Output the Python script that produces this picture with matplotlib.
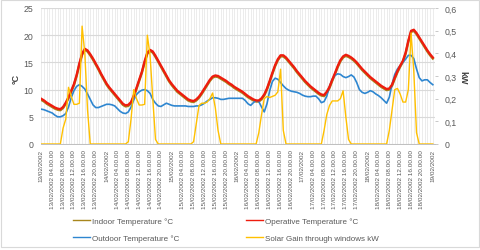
import numpy as np
import matplotlib
matplotlib.use("Agg")
import matplotlib.pyplot as plt
from matplotlib.lines import Line2D
from matplotlib.patches import Rectangle

plt.rcParams["font.family"] = ["Liberation Sans", "DejaVu Sans"]

# hourly values, 13/02/2002 00:00 -> 19/02/2002 00:00
operative = [
    8.3, 8.0, 7.6, 7.3, 7.0, 6.7, 6.5, 6.4, 6.8, 7.6, 8.6, 9.8,
    11.0, 12.7, 14.8, 16.6, 17.5, 17.2, 16.5, 15.7, 14.8, 13.9, 12.9, 12.0,
    11.1, 10.4, 9.8, 9.2, 8.6, 8.0, 7.4, 7.1, 7.2, 7.7, 8.9, 10.3,
    11.8, 13.3, 15.2, 16.8, 17.3, 17.0, 16.2, 15.3, 14.4, 13.5, 12.6, 11.7,
    11.0, 10.4, 9.8, 9.4, 9.0, 8.6, 8.2, 8.0, 7.9, 8.2, 8.7, 9.4,
    10.2, 11.0, 11.8, 12.4, 12.6, 12.5, 12.2, 11.9, 11.6, 11.2, 10.9, 10.5,
    10.2, 9.9, 9.6, 9.2, 8.8, 8.5, 8.2, 8.0, 8.0, 8.4, 9.1, 10.2,
    11.6, 13.1, 14.5, 15.6, 16.3, 16.3, 15.9, 15.3, 14.7, 14.1, 13.4, 12.8,
    12.2, 11.6, 11.1, 10.6, 10.2, 9.8, 9.4, 9.1, 9.0, 9.6, 10.5, 11.8,
    13.0, 14.3, 15.4, 16.1, 16.4, 16.2, 15.9, 15.5, 15.0, 14.4, 13.8, 13.3,
    12.8, 12.3, 11.9, 11.5, 11.1, 10.7, 10.4, 10.1, 10.2, 10.9, 12.2, 13.4,
    14.4, 15.3, 16.8, 19.0, 20.8, 21.0, 20.4, 19.6, 18.8, 18.0, 17.2, 16.5, 15.9,
]

indoor = [
    8.1, 7.8, 7.4, 7.1, 6.8, 6.5, 6.3, 6.2, 6.6, 7.4, 8.4, 9.6,
    10.8, 12.5, 14.6, 16.4, 17.3, 17.0, 16.3, 15.5, 14.6, 13.7, 12.7, 11.8,
    10.9, 10.2, 9.6, 9.0, 8.4, 7.8, 7.2, 6.9, 7.0, 7.5, 8.7, 10.1,
    11.6, 13.1, 15.0, 16.6, 17.1, 16.8, 16.0, 15.1, 14.2, 13.3, 12.4, 11.5,
    10.8, 10.2, 9.6, 9.2, 8.8, 8.4, 8.0, 7.8, 7.7, 8.0, 8.5, 9.2,
    10.0, 10.8, 11.6, 12.2, 12.4, 12.3, 12.0, 11.7, 11.4, 11.0, 10.7, 10.3,
    10.0, 9.7, 9.4, 9.0, 8.6, 8.3, 8.0, 7.8, 7.8, 8.2, 8.9, 10.0,
    11.4, 12.9, 14.3, 15.4, 16.1, 16.1, 15.7, 15.1, 14.5, 13.9, 13.2, 12.6,
    12.0, 11.4, 10.9, 10.4, 10.0, 9.6, 9.2, 8.9, 8.8, 9.4, 10.3, 11.6,
    12.8, 14.1, 15.2, 15.9, 16.2, 16.0, 15.7, 15.3, 14.8, 14.2, 13.6, 13.1,
    12.6, 12.1, 11.7, 11.3, 10.9, 10.5, 10.2, 9.9, 10.0, 10.7, 12.0, 13.2,
    14.2, 15.1, 16.6, 18.8, 20.6, 20.8, 20.2, 19.4, 18.6, 17.8, 17.0, 16.3, 15.7,
]

outdoor = [
    6.4, 6.3, 6.1, 5.9, 5.7, 5.3, 5.0, 5.0, 5.2, 5.6, 6.8, 8.5,
    9.8, 10.6, 10.9, 10.6, 10.1, 9.2, 8.2, 7.2, 6.7, 6.7, 6.9, 7.1,
    7.3, 7.3, 7.2, 7.0, 6.5, 6.0, 5.7, 5.6, 5.9, 6.8, 8.1, 9.1,
    9.6, 9.9, 10.0, 9.8, 9.3, 8.2, 7.5, 7.0, 6.9, 7.2, 7.5, 7.3,
    7.1, 7.0, 7.0, 7.0, 7.0, 7.0, 6.9, 6.9, 6.9, 7.0, 7.0, 7.2,
    7.5, 7.9, 8.2, 8.5, 8.5, 8.4, 8.2, 8.2, 8.3, 8.4, 8.4, 8.4,
    8.4, 8.4, 8.4, 8.0, 7.4, 7.1, 7.6, 8.0, 7.8, 6.8, 5.9, 7.4,
    9.8, 11.5, 12.1, 11.9, 11.3, 10.7, 10.2, 9.9, 9.7, 9.6, 9.5, 9.3,
    9.0, 8.8, 8.7, 8.7, 8.8, 8.8, 8.3, 7.6, 7.8, 8.8, 10.6, 11.9,
    12.6, 12.9, 12.8, 12.4, 12.2, 12.4, 12.7, 12.3, 11.3, 10.0, 9.5, 9.3,
    9.5, 9.8, 9.6, 9.2, 8.9, 8.5, 8.0, 7.5, 8.6, 11.0, 12.8, 13.8,
    14.4, 15.0, 15.6, 16.3, 16.3, 15.7, 13.8, 12.2, 11.6, 11.8, 11.8, 11.3, 10.9,
]

solar_kw = [
    0, 0, 0, 0, 0, 0, 0, 0, 0.07, 0.11, 0.25, 0.21,
    0.175, 0.175, 0.18, 0.52, 0.40, 0.15, 0, 0, 0, 0, 0, 0,
    0, 0, 0, 0, 0, 0, 0, 0, 0.01, 0.11, 0.24, 0.2,
    0.172, 0.172, 0.175, 0.48, 0.39, 0.2, 0.02, 0, 0, 0, 0, 0,
    0, 0, 0, 0, 0, 0, 0, 0, 0.01, 0.09, 0.17, 0.18,
    0.18, 0.185, 0.2, 0.225, 0.16, 0.06, 0, 0, 0, 0, 0, 0,
    0, 0, 0, 0, 0, 0, 0, 0, 0.05, 0.13, 0.2, 0.21,
    0.205, 0.21, 0.215, 0.23, 0.33, 0.06, 0, 0, 0, 0, 0, 0,
    0, 0, 0, 0, 0, 0, 0, 0, 0.06, 0.13, 0.17, 0.19,
    0.19, 0.19, 0.2, 0.235, 0.12, 0.02, 0, 0, 0, 0, 0, 0,
    0, 0, 0, 0, 0, 0, 0, 0, 0.06, 0.15, 0.24, 0.245,
    0.22, 0.185, 0.185, 0.24, 0.49, 0.32, 0.05, 0, 0, 0, 0, 0, 0,
]

days = ["13/02/2002", "14/02/2002", "15/02/2002", "16/02/2002",
        "17/02/2002", "18/02/2002", "19/02/2002"]
times = ["", " 04.00.00", " 08.00.00", " 12.00.00", " 16.00.00", " 20.00.00"]
tick_labels = [d + t for d in days[:-1] for t in times] + [days[-1]]

temp_ticks = [0, 5, 10, 15, 20, 25]
kw_ticks = [0, 0.1, 0.2, 0.3, 0.4, 0.5, 0.6]
kw_labels = ["0", "0,1", "0,2", "0,3", "0,4", "0,5", "0,6"]

labels = ["Indoor Temperature °C", "Operative Temperature °C",
          "Outdoor Temperature °C", "Solar Gain through windows kW"]
colors = ["#A8861C", "#EE1C0E", "#2E86D0", "#FFC000"]

TXT = "#595959"
GRID = "#d9d9d9"

hours = np.arange(len(operative))

fig = plt.figure(figsize=(4.8, 2.51), dpi=100)
ax = fig.add_axes([40.5 / 480, 106 / 251, 394.5 / 480, 136 / 251])
ax2 = ax.twinx()

ax.plot(hours, indoor, color=colors[0], lw=1.7, zorder=3)
ax.plot(hours, operative, color=colors[1], lw=1.7, zorder=4)
ax.plot(hours, outdoor, color=colors[2], lw=1.2, zorder=3)
ax2.plot(hours, solar_kw, color=colors[3], lw=1.0, zorder=5)

ax.set_xlim(-0.3, 144.8)
ax.set_ylim(0, 25)
ax2.set_ylim(0, 0.6)

# hourly vertical gridlines, labels every 4 hours
ax.set_xticks(hours, minor=True)
ax.set_xticks(hours[::4])
ax.set_xticklabels(tick_labels, rotation=90, fontsize=4.6, color=TXT)
ax.tick_params(axis="x", which="both", length=0, pad=3.5)
ax.grid(axis="x", which="both", color="#dedede", lw=0.4)
ax.set_yticks(temp_ticks)
ax.set_yticklabels([str(t) for t in temp_ticks], fontsize=6.3, color=TXT)
ax.tick_params(axis="y", length=0, pad=5.2)
ax.grid(axis="y", color=GRID, lw=0.8)
ax.set_axisbelow(True)

ax2.set_yticks(kw_ticks)
ax2.set_yticklabels(kw_labels, fontsize=6.3, color=TXT)
ax2.tick_params(axis="y", length=2, width=0.6, color="#bfbfbf", pad=5)

for a in (ax, ax2):
    for s in a.spines.values():
        s.set_visible(False)
ax.spines["bottom"].set_visible(True)
ax.spines["bottom"].set_color("#bfbfbf")
ax.spines["bottom"].set_linewidth(0.7)

fig.text(16 / 480, 1 - 79 / 251, "°C", rotation=90, ha="center", va="center",
         fontsize=6.5, fontweight="bold", color="#404040")
fig.text(463 / 480, 1 - 78 / 251, "kW", rotation=270, ha="center", va="center",
         fontsize=6.5, fontweight="bold", color="#404040")

# legend: column-first order -> indoor, outdoor | operative, solar
order = [0, 2, 1, 3]
handles = [Line2D([], [], color=colors[i], lw=1.0) for i in order]
fig.legend(handles, [labels[i] for i in order], loc="upper left",
           bbox_to_anchor=(73 / 480, 1 - 218 / 251), ncol=2, frameon=False,
           fontsize=5.8, handlelength=2.1, handletextpad=0.25,
           columnspacing=8.3, labelspacing=1.2, borderpad=0, borderaxespad=0,
           labelcolor=TXT)

fig.patches.append(Rectangle((1 / 480, 3 / 251), 478 / 480, 247 / 251,
                             transform=fig.transFigure, fill=False,
                             edgecolor=GRID, lw=0.8))

fig.savefig("out.png", dpi=100)
